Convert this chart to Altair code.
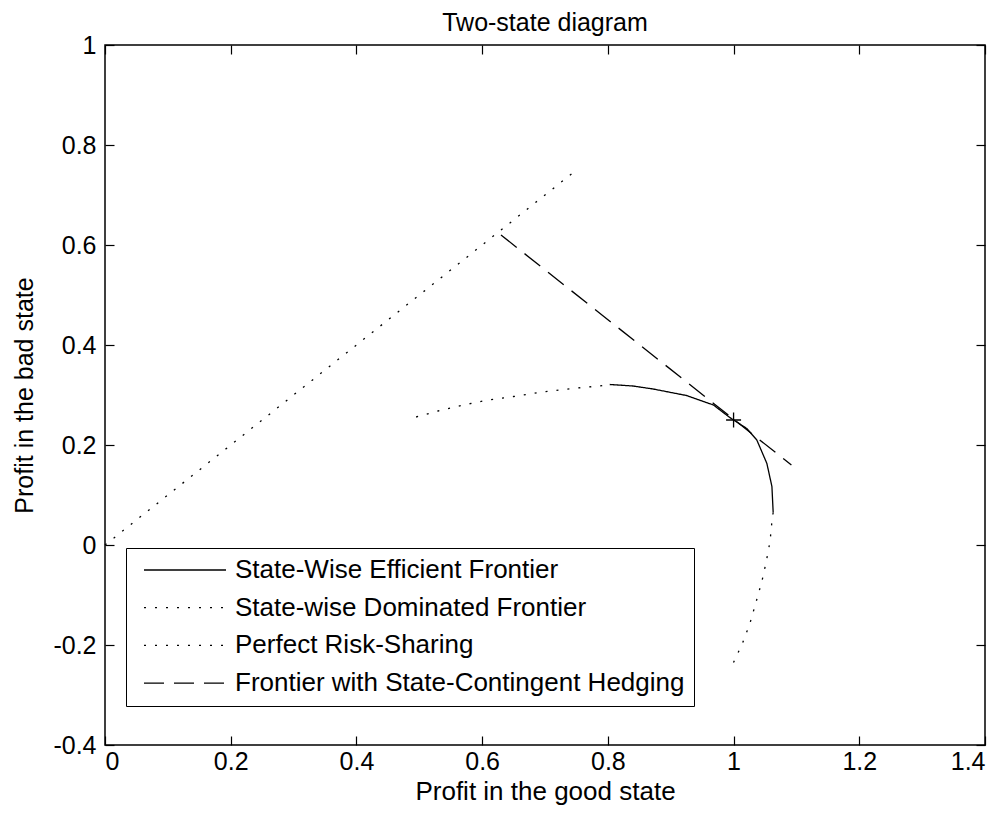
import altair as alt
import pandas as pd

# ---- data ----
series_names = [
    "State-Wise Efficient Frontier",
    "State-wise Dominated Frontier",
    "Perfect Risk-Sharing",
    "Frontier with State-Contingent Hedging",
]

eff_x = [0.803, 0.840, 0.872, 0.925, 0.968, 0.994, 1.021, 1.037, 1.053, 1.061, 1.063]
eff_y = [0.321, 0.318, 0.312, 0.299, 0.280, 0.255, 0.233, 0.210, 0.163, 0.117, 0.065]

dom_left_x = [0.495, 0.530, 0.570, 0.610, 0.650, 0.690, 0.729, 0.760, 0.787, 0.803]
dom_left_y = [0.256, 0.268, 0.280, 0.290, 0.297, 0.305, 0.311, 0.315, 0.318, 0.321]

dom_low_x = [1.063, 1.061, 1.058, 1.052, 1.045, 1.036, 1.026, 1.014, 0.998]
dom_low_y = [0.065, 0.047, 0.007, -0.033, -0.073, -0.113, -0.157, -0.197, -0.240]

prs_x = [0.0, 0.75]
prs_y = [0.0, 0.75]

hedge_x = [0.630, 1.092]
hedge_y = [0.620, 0.160]

opt_x = [1.0]
opt_y = [0.25]

x_ticks = [0, 0.2, 0.4, 0.6, 0.8, 1, 1.2, 1.4]
y_ticks = [-0.4, -0.2, 0, 0.2, 0.4, 0.6, 0.8, 1]

dash_styles = [[1, 0], [2, 9], [2, 9], [20, 10]]

# ---- build long table ----
rows = []
def add(series, piece, xs, ys):
    for i, (a, b) in enumerate(zip(xs, ys)):
        rows.append({"series": series, "piece": piece, "order": i, "x": a, "y": b})

add(series_names[0], "eff", eff_x, eff_y)
add(series_names[1], "dom_left", dom_left_x, dom_left_y)
add(series_names[1], "dom_low", dom_low_x, dom_low_y)
add(series_names[2], "prs", prs_x, prs_y)
add(series_names[3], "hedge", hedge_x, hedge_y)
df = pd.DataFrame(rows)
opt_df = pd.DataFrame({"x": opt_x, "y": opt_y})

FONT = "Liberation Sans"
xscale = alt.Scale(domain=[0, 1.4], nice=False, zero=False)
yscale = alt.Scale(domain=[-0.4, 1], nice=False, zero=False)

tick_common = dict(domain=False, grid=False, ticks=True, tickSize=9, offset=-9,
                   tickColor="black", tickWidth=1.2)

lines = alt.Chart(df).mark_line(color="black", strokeWidth=1.3).encode(
    x=alt.X("x:Q", scale=xscale,
            axis=alt.Axis(orient="bottom", values=x_ticks, labelExpr="'' + datum.value",
                          title="Profit in the good state", titleFontSize=26,
                          titleFontWeight="normal", titleColor="black", titlePadding=4,
                          labelFontSize=25, labelColor="black", labelPadding=4,
                          **tick_common)),
    y=alt.Y("y:Q", scale=yscale,
            axis=alt.Axis(orient="left", values=y_ticks, labelExpr="'' + datum.value",
                          title="Profit in the bad state", titleFontSize=25,
                          titleFontWeight="normal", titleColor="black", titlePadding=15,
                          labelFontSize=25, labelColor="black", labelPadding=9,
                          **tick_common)),
    strokeDash=alt.StrokeDash(
        "series:N",
        scale=alt.Scale(domain=series_names, range=dash_styles),
        legend=alt.Legend(
            title=None, orient="none", legendX=21, legendY=503,
            fillColor="white", strokeColor="black", padding=9, cornerRadius=0,
            symbolType="stroke", symbolSize=6724, symbolStrokeWidth=1.3,
            symbolStrokeColor="black", symbolOffset=8,
            labelFontSize=26, labelColor="black", labelOffset=8, labelLimit=700,
            labelFont=FONT, clipHeight=26, rowPadding=11.7,
        ),
    ),
    detail="piece:N",
    order="order:Q",
)

mirror = alt.Chart(opt_df).mark_point(opacity=0).encode(
    x=alt.X("x:Q", scale=xscale,
            axis=alt.Axis(orient="top", values=x_ticks, labels=False, title=None, **tick_common)),
    y=alt.Y("y:Q", scale=yscale,
            axis=alt.Axis(orient="right", values=y_ticks, labels=False, title=None, **tick_common)),
)

marker = alt.Chart(opt_df).mark_point(
    shape="M-1,0L1,0M0,-1L0,1", size=225, filled=False, color="black", strokeWidth=1.3, opacity=1
).encode(
    x=alt.X("x:Q", scale=xscale, axis=None),
    y=alt.Y("y:Q", scale=yscale, axis=None),
)

chart = (
    alt.layer(lines, marker, mirror)
    .resolve_axis(x="independent", y="independent")
    .properties(
        width=880, height=700,
        autosize=alt.AutoSizeParams(type="none"),
        padding={"left": 97, "top": 37, "right": 10, "bottom": 60},
        title=alt.Title("Two-state diagram", fontSize=25, fontWeight="normal",
                        color="black", font=FONT, offset=-3),
        background="white",
    )
    .configure(font=FONT)
    .configure_view(stroke="black", strokeWidth=1.5)
)

chart.save("out.html", embed_options={"renderer": "svg", "actions": False})
